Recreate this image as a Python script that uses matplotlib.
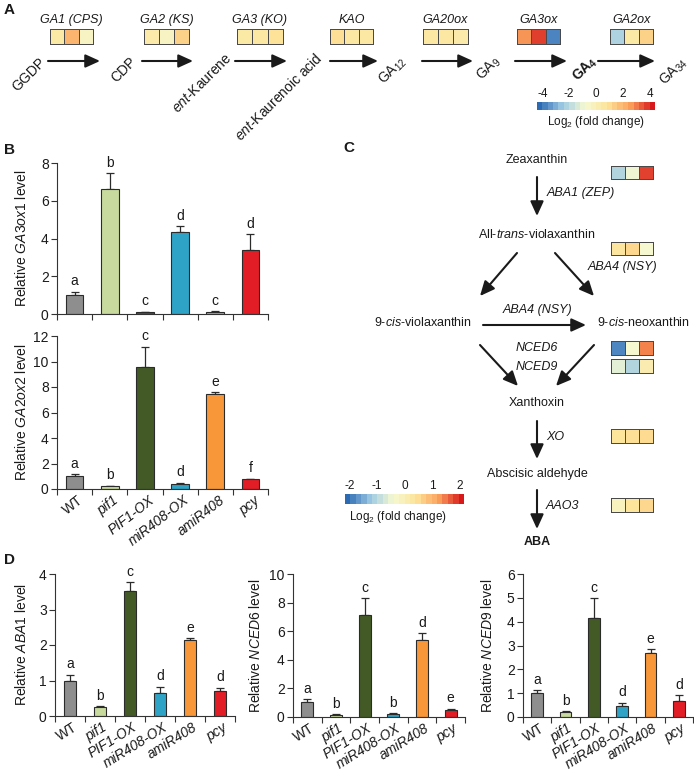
import numpy as np
import matplotlib
matplotlib.use('Agg')
import matplotlib.pyplot as plt
from matplotlib.colors import LinearSegmentedColormap, Normalize
from matplotlib.cm import ScalarMappable
import matplotlib.transforms as mtransforms

plt.rcParams['font.family'] = ['Liberation Sans', 'DejaVu Sans']
plt.rcParams['mathtext.fontset'] = 'custom'
plt.rcParams['mathtext.rm'] = 'Liberation Sans'
plt.rcParams['mathtext.it'] = 'Liberation Sans:italic'
plt.rcParams['mathtext.bf'] = 'Liberation Sans:bold'

# ---------------- data ----------------
genotypes = ['WT', 'pif1', 'PIF1-OX', 'miR408-OX', 'amiR408', 'pcy']
bar_colors = ['#8e8e8e', '#c8da9e', '#435a26', '#2ea3c6', '#f7973a', '#e31d25']

ga3ox1_mean = [1.0, 6.6, 0.1, 4.35, 0.12, 3.38]
ga3ox1_err = [0.18, 0.87, 0.02, 0.30, 0.02, 0.85]
ga3ox1_letters = ['a', 'b', 'c', 'd', 'c', 'd']

ga2ox2_mean = [1.0, 0.2, 9.54, 0.38, 7.42, 0.75]
ga2ox2_err = [0.15, 0.05, 1.62, 0.10, 0.18, 0.07]
ga2ox2_letters = ['a', 'b', 'c', 'd', 'e', 'f']

aba1_mean = [1.0, 0.25, 3.52, 0.65, 2.15, 0.70]
aba1_err = [0.16, 0.02, 0.25, 0.17, 0.04, 0.09]
aba1_letters = ['a', 'b', 'c', 'd', 'e', 'd']

nced6_mean = [1.02, 0.15, 7.15, 0.22, 5.38, 0.47]
nced6_err = [0.22, 0.03, 1.15, 0.04, 0.47, 0.12]
nced6_letters = ['a', 'b', 'c', 'b', 'd', 'e']

nced9_mean = [1.01, 0.22, 4.14, 0.45, 2.70, 0.67]
nced9_err = [0.11, 0.02, 0.85, 0.14, 0.15, 0.24]
nced9_letters = ['a', 'b', 'c', 'd', 'e', 'd']

# GA pathway heat-map (log2 fold change, 3 comparisons per gene)
ga_genes = ['GA1 (CPS)', 'GA2 (KS)', 'GA3 (KO)', 'KAO', 'GA20ox', 'GA3ox', 'GA2ox']
ga_heat = [[0.5, 2.1, -0.35],
           [0.4, -0.4, 1.4],
           [0.5, 0.6, 0.9],
           [1.0, 0.6, 0.6],
           [0.6, 0.6, 0.4],
           [2.8, 3.9, -3.9],
           [-2.3, 0.5, 1.4]]
ga_metabolites = ['GGDP', 'CDP', r'$\mathit{ent}$-Kaurene', r'$\mathit{ent}$-Kaurenoic acid',
                  r'GA$_{12}$', r'GA$_{9}$', r'$\mathbf{GA_{4}}$', r'GA$_{34}$']

# ABA pathway heat-map
aba_genes = ['ABA1', 'ABA4', 'NCED6', 'NCED9', 'XO', 'AAO3']
aba_heat = [[-1.1, -0.5, 1.9],
            [0.35, 0.6, -0.4],
            [-1.9, -0.4, 1.5],
            [-0.6, -1.1, 0.1],
            [0.4, 0.5, 0.55],
            [-0.15, 0.4, 0.6]]

cb_ticks_A = [-4, -2, 0, 2, 4]
cb_ticks_C = [-2, -1, 0, 1, 2]

# ---------------- figure ----------------
W, H = 694, 774
fig = plt.figure(figsize=(W / 100, H / 100), dpi=100)


def rect(x0, y0, x1, y1):
    return [x0 / W, 1 - y1 / H, (x1 - x0) / W, (y1 - y0) / H]


cmap = LinearSegmentedColormap.from_list(
    'bwr2', ['#2c6ab3', '#9cc9e3', '#f6f9d2', '#fde49a', '#fba25c', '#d7191c'])
cmap_steps = cmap.resampled(22)

ax0 = fig.add_axes([0, 0, 1, 1])
ax0.set_xlim(0, W)
ax0.set_ylim(H, 0)
ax0.axis('off')

TXT = '#1a1a1a'


def arrow(x0, y0, x1, y1):
    ax0.annotate('', xy=(x1, y1), xytext=(x0, y0),
                 arrowprops=dict(arrowstyle='-|>,head_length=0.55,head_width=0.25',
                                 color=TXT, lw=1.5, shrinkA=0, shrinkB=0,
                                 mutation_scale=16))


def heat(x0, y0, x1, y1, vals, vlim):
    a = fig.add_axes(rect(x0, y0, x1, y1))
    m = a.pcolormesh(np.array([vals]), cmap=cmap, vmin=-vlim, vmax=vlim,
                     edgecolors='#4a4a4a', linewidth=0.6)
    m.set_clip_on(False)
    a.set_xlim(0, 3)
    a.set_ylim(0, 1)
    a.axis('off')


def colorbar(x0, y0, x1, y1, vlim, ticks, label_xy):
    cax = fig.add_axes(rect(x0, y0, x1, y1))
    sm = ScalarMappable(norm=Normalize(-vlim, vlim), cmap=cmap_steps)
    cb = fig.colorbar(sm, cax=cax, orientation='horizontal')
    cb.outline.set_visible(False)
    cb.set_ticks(ticks)
    cb.set_ticklabels([str(t) for t in ticks])
    cax.xaxis.set_ticks_position('top')
    cax.tick_params(length=0, pad=1.5, labelsize=8.5, colors=TXT)
    ax0.text(label_xy[0], label_xy[1], r'Log$_2$ (fold change)', ha='center', va='center',
             fontsize=8.5, color=TXT)


# ---------------- panel A ----------------
ax0.text(4, 10, 'A', fontsize=11, fontweight='bold', va='center', color=TXT)
box_x = [(50, 93), (144, 189), (237, 283), (330, 373), (423, 468), (517, 560), (610, 653)]
arrow_x = [(48, 100), (142, 193), (235, 287), (330, 378), (422, 473), (515, 567), (598, 655)]
met_anchor = [(43, 60), (134, 59), (230, 56), (320, 56), (404, 59), (498, 59), (595, 59), (685, 60)]
for gname, (bx0, bx1), vals in zip(ga_genes, box_x, ga_heat):
    heat(bx0, 29, bx1, 44, vals, 4.4)
    ax0.text((bx0 + bx1) / 2, 20, gname, ha='center', va='center', fontsize=9,
             style='italic', color=TXT)
for (a0, a1) in arrow_x:
    arrow(a0, 61, a1, 61)
for lab, (mx, my) in zip(ga_metabolites, met_anchor):
    ax0.text(mx, my, lab, rotation=45, rotation_mode='anchor', ha='right', va='center',
             fontsize=10, color=TXT)
colorbar(537, 102, 655, 110, 4.4, cb_ticks_A, (596, 122))

# ---------------- panel C ----------------
ax0.text(343, 148, 'C', fontsize=11, fontweight='bold', va='center', color=TXT)
cx = 537
fs = 9
ax0.text(cx, 160, 'Zeaxanthin', ha='center', va='center', fontsize=fs, color=TXT)
arrow(cx, 177, cx, 216)
ax0.text(547, 193, 'ABA1 (ZEP)', ha='left', va='center', fontsize=fs, style='italic', color=TXT)
ax0.text(cx, 235, r'All-$\mathit{trans}$-violaxanthin', ha='center', va='center', fontsize=fs, color=TXT)
ax0.text(622, 267, 'ABA4 (NSY)', ha='center', va='center', fontsize=fs, style='italic', color=TXT)
arrow(517, 253, 480, 296)
arrow(555, 253, 594, 296)
ax0.text(423, 322, r'9-$\mathit{cis}$-violaxanthin', ha='center', va='center', fontsize=fs, color=TXT)
ax0.text(597, 322, r'9-$\mathit{cis}$-neoxanthin', ha='left', va='center', fontsize=fs, color=TXT)
arrow(483, 325, 586, 325)
ax0.text(cx, 310, 'ABA4 (NSY)', ha='center', va='center', fontsize=fs, style='italic', color=TXT)
arrow(480, 345, 518, 386)
arrow(594, 345, 556, 386)
ax0.text(cx, 348, 'NCED6', ha='center', va='center', fontsize=fs, style='italic', color=TXT)
ax0.text(cx, 367, 'NCED9', ha='center', va='center', fontsize=fs, style='italic', color=TXT)
ax0.text(cx, 403, 'Xanthoxin', ha='center', va='center', fontsize=fs, color=TXT)
arrow(cx, 421, cx, 459)
ax0.text(546, 437, 'XO', ha='left', va='center', fontsize=fs, style='italic', color=TXT)
ax0.text(cx, 474, 'Abscisic aldehyde', ha='center', va='center', fontsize=fs, color=TXT)
arrow(cx, 490, cx, 529)
ax0.text(546, 506, 'AAO3', ha='left', va='center', fontsize=fs, style='italic', color=TXT)
ax0.text(cx, 542, 'ABA', ha='center', va='center', fontsize=fs, fontweight='bold', color=TXT)

aba_box_y = [(166, 179), (242, 255), (341, 355), (359, 373), (429, 443), (498, 512)]
for vals, (y0, y1) in zip(aba_heat, aba_box_y):
    heat(611, y0, 653, y1, vals, 2.17)
colorbar(345, 494, 464, 504, 2.17, cb_ticks_C, (398, 517))


# ---------------- bar panels ----------------
def bar_panel(px, means, errs, letters, ymax, ystep, gene, ylab_x, width, show_x, rot, dx):
    ax = fig.add_axes(rect(*px))
    x = np.arange(len(genotypes))
    ax.bar(x, means, width=width, color=bar_colors, edgecolor='#2b2b2b', linewidth=0.8, zorder=2)
    ax.errorbar(x, means, yerr=[np.zeros(len(errs)), errs], fmt='none', ecolor='#2b2b2b',
                elinewidth=0.9, capsize=3, capthick=0.9, zorder=1)
    for xi, m, e, l in zip(x, means, errs, letters):
        ax.annotate(l, (xi, m + e), xytext=(0, 2.5), textcoords='offset points',
                    ha='center', va='bottom', fontsize=10, color=TXT)
    ax.set_xlim(-0.5, 5.5)
    ax.set_ylim(0, ymax)
    ax.set_yticks(np.arange(0, ymax + 0.01, ystep))
    ax.set_yticklabels([str(int(v)) for v in np.arange(0, ymax + 0.01, ystep)])
    for s in ['top', 'right']:
        ax.spines[s].set_visible(False)
    for s in ['left', 'bottom']:
        ax.spines[s].set_color('#333333')
        ax.spines[s].set_linewidth(0.8)
    ax.tick_params(axis='y', direction='out', length=4, width=0.8, color='#333333',
                   labelsize=10, labelcolor=TXT, pad=2)
    ax.set_xticks(np.arange(-0.5, 6, 1), minor=True)
    ax.tick_params(axis='x', which='minor', direction='out', length=4, width=0.8, color='#333333')
    ax.set_xticks(x)
    ax.tick_params(axis='x', which='major', length=0, pad=3)
    if show_x:
        ax.set_xticklabels(genotypes)
        off = mtransforms.ScaledTranslation(dx / 100, 0, fig.dpi_scale_trans)
        for i, t in enumerate(ax.get_xticklabels()):
            t.set_rotation(rot)
            t.set_rotation_mode('anchor')
            t.set_ha('right')
            t.set_fontsize(10)
            t.set_color(TXT)
            if i > 0:
                t.set_style('italic')
            t.set_transform(t.get_transform() + off)
    else:
        ax.set_xticklabels([])
    yc = (px[1] + px[3]) / 2
    fig.text(ylab_x / W, 1 - yc / H, r'Relative $\mathit{%s}$ level' % gene, rotation=90,
             ha='center', va='center', fontsize=10, color=TXT)
    return ax


ax0.text(4, 150, 'B', fontsize=11, fontweight='bold', va='center', color=TXT)
bar_panel((57, 163, 268, 314), ga3ox1_mean, ga3ox1_err, ga3ox1_letters, 8, 2, 'GA3ox1', 22,
          0.5, False, 38, 3)
bar_panel((57, 336, 268, 489), ga2ox2_mean, ga2ox2_err, ga2ox2_letters, 12, 2, 'GA2ox2', 22,
          0.5, True, 38, 3)

ax0.text(4, 560, 'D', fontsize=11, fontweight='bold', va='center', color=TXT)
bar_panel((55, 574, 235, 716), aba1_mean, aba1_err, aba1_letters, 4, 1, 'ABA1', 22,
          0.42, True, 32, 2)
bar_panel((293, 574, 465, 717), nced6_mean, nced6_err, nced6_letters, 10, 2, 'NCED6', 256,
          0.42, True, 32, 2)
bar_panel((523, 574, 693, 717), nced9_mean, nced9_err, nced9_letters, 6, 1, 'NCED9', 488,
          0.42, True, 32, 2)

fig.savefig('out.png', dpi=100)
